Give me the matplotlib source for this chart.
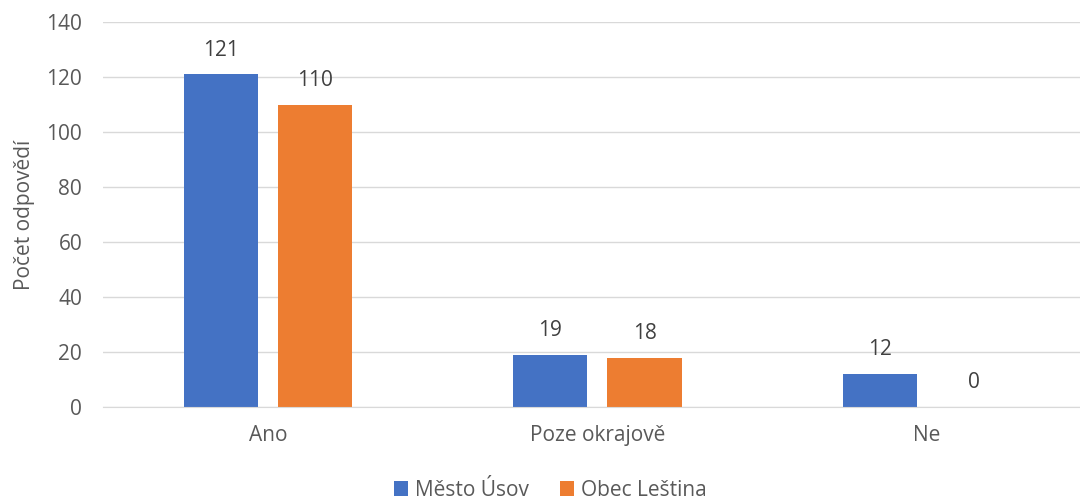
import numpy as np
import matplotlib.pyplot as plt

categories = ["Ano", "Poze okrajově", "Ne"]
series_names = ["Město Úsov", "Obec Leština"]
usov = [121, 19, 12]
lestina = [110, 18, 0]
colors = ["#4472C4", "#ED7D31"]

plt.rcParams['font.family'] = ['Open Sans', 'DejaVu Sans']
txt = "#595959"
fs = 15

fig = plt.figure(figsize=(10.8, 4.99), dpi=100)
ax = fig.add_axes([103 / 1080, 1 - 407 / 499, 977 / 1080, 385 / 499])

x = np.arange(len(categories))
w = 0.225
off = 0.143
b1 = ax.bar(x - off, usov, w, color=colors[0], label=series_names[0])
b2 = ax.bar(x + off, lestina, w, color=colors[1], label=series_names[1])

for bars in (b1, b2):
    for rect in bars:
        h = rect.get_height()
        ax.text(rect.get_x() + rect.get_width() / 2, h + 5, f"{int(h)}",
                ha='center', va='bottom', fontsize=fs, color="#404040")

ax.set_xlim(-0.5, 2.464)
ax.set_ylim(0, 140)
ax.set_yticks(range(0, 141, 20))
ax.set_xticks(x)
ax.set_xticklabels(categories)
ax.tick_params(axis='both', length=0, labelsize=fs, colors=txt)
ax.tick_params(axis='x', pad=13)
ax.tick_params(axis='y', pad=15)
ax.grid(axis='y', color="#D9D9D9", linewidth=1)
ax.set_axisbelow(True)
for s in ["top", "right", "left"]:
    ax.spines[s].set_visible(False)
ax.spines["bottom"].set_color("#D9D9D9")
ax.set_ylabel("Počet odpovědí", fontsize=fs, color=txt, labelpad=8)

fig.legend(loc='center', bbox_to_anchor=(550 / 1080, 1 - 490 / 499), ncol=2,
           frameon=False, fontsize=fs, handlelength=0.7, handleheight=0.7,
           handletextpad=0.3, columnspacing=1.5, labelcolor=txt)

fig.savefig("out.png", dpi=100)
